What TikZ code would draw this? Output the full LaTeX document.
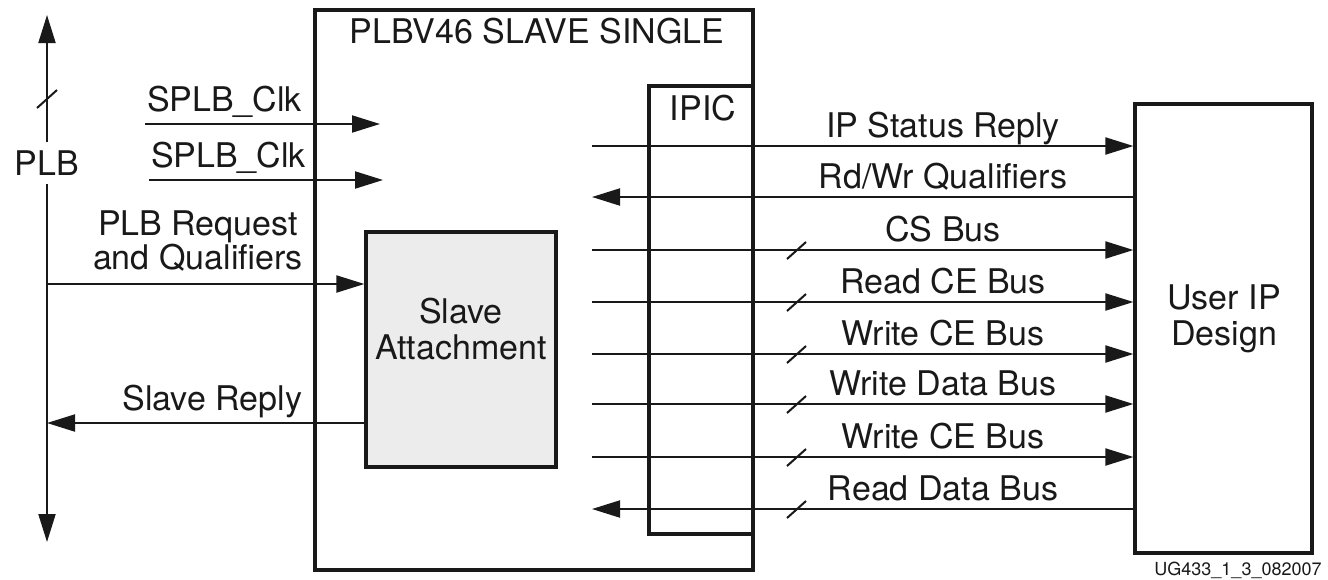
\documentclass[tikz,border=0pt]{standalone}
\usepackage{fontspec}
\setmainfont{TeX Gyre Heros}
\usetikzlibrary{positioning,calc,arrows.meta}

\begin{document}
\begin{tikzpicture}[x=0.5pt,y=-0.5pt,line width=1pt,color=black!90,
    font=\fontsize{17}{18}\selectfont]
    \tikzstyle{blk}=[draw,line width=1.6pt,rectangle,inner sep=0pt]
    \tikzstyle{sig}=[line width=1pt]
    \tikzstyle{toarr}=[-{Triangle[length=14pt,width=8.5pt]}]
    \tikzstyle{fromarr}=[{Triangle[length=14pt,width=8.5pt]}-]
    \tikzstyle{lbl}=[inner sep=0pt,anchor=base]
    \useasboundingbox (0,0) rectangle (1328,579);

    % blocks
    \node[blk,minimum width=219pt,minimum height=280pt] (plbv) at (534,290) {};
    \node[blk,minimum width=52pt,minimum height=224pt] (ipic) at (701,310) {};
    \node[blk,fill=gray!15,minimum width=95pt,minimum height=117.5pt] (att) at (461,349.5) {};
    \node[blk,minimum width=88.5pt,minimum height=224.5pt] (user) at (1223.5,328.5) {};

    \node[lbl] (title) at (537,43) {PLBV46 SLAVE SINGLE};
    \node[lbl] (ipiclbl) at (703,120) {IPIC};
    \node[align=center,inner sep=0pt] (attlbl) at (461,329) {Slave\\Attachment};
    \node[align=center,inner sep=0pt] (userlbl) at (1224,319) {User IP\\Design};

    % PLB bus
    \coordinate (plbtop) at (47,15);
    \coordinate (plbbot) at (47,542);
    \node[inner sep=4pt] (plb) at (47,163) {PLB};
    \draw[sig,toarr] (plb) -- (plbtop);
    \draw[sig,toarr] (plb) -- (plbbot);
    \draw[sig] (37,108) -- (57,90);

    \foreach \n/\xs/\xe/\y in {1/145/380/124, 2/149/383/180} {
        \coordinate (clks\n) at (\xs,\y);
        \coordinate (clke\n) at (\xe,\y);
        \draw[sig,toarr] (clks\n) -- (clke\n);
        \node[lbl,anchor=base west] at ($(clks\n)+(1,-13)$) {SPLB\_Clk};
    }

    \coordinate (req) at (47,284);
    \draw[sig,toarr] (req) -- (req -| att.west);
    \node[align=center,inner sep=0pt,font=\fontsize{17}{17}\selectfont] (reqlbl) at (198,241.5) {PLB Request\\and Qualifiers};

    \coordinate (rep) at (47,423);
    \draw[sig,fromarr] (rep) -- (rep -| att.west);
    \node[lbl,anchor=base east] (replbl) at (303,410) {Slave Reply};

    % IPIC signals
    \foreach \i/\y/\txt/\dir in {1/146/IP Status Reply/toarr, 2/197/{Rd/Wr Qualifiers}/fromarr,
        3/250/CS Bus/toarr, 4/302/Read CE Bus/toarr, 5/354/Write CE Bus/toarr,
        6/404/Write Data Bus/toarr, 7/457/Write CE Bus/toarr, 8/509/Read Data Bus/fromarr} {
        \coordinate (sig\i) at (592,\y);
        \draw[sig,\dir] (sig\i) -- (sig\i -| user.west);
        \node[lbl] at ($(sig\i)+(351,-9)$) {\txt};
    }
    \foreach \i in {3,...,8}
        \draw[sig] ($(sig\i)+(195,9)$) -- ++(19,-17);

    \node[lbl,font=\fontsize{9}{10}\selectfont] (fig) at (1238,575) {UG433\_1\_3\_082007};
\end{tikzpicture}
\end{document}
